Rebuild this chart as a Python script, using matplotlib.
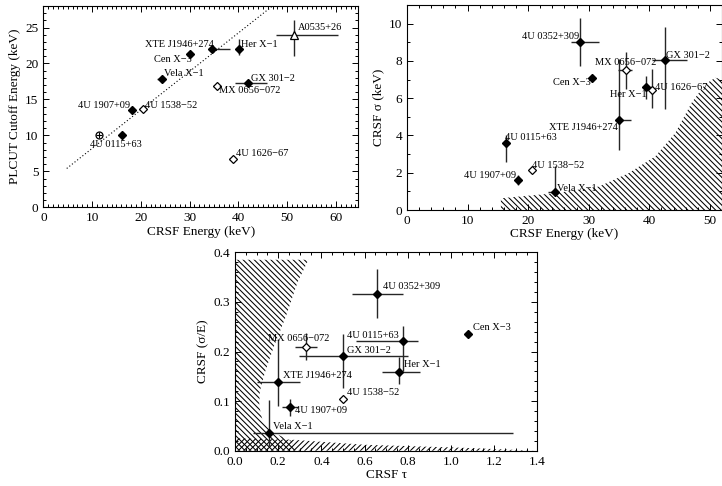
import numpy as np
import matplotlib.pyplot as plt
from matplotlib.ticker import MultipleLocator

plt.rcParams['font.family'] = ['Liberation Serif', 'DejaVu Serif']
plt.rcParams['hatch.linewidth'] = 0.75

# --- panel 1: CRSF energy vs PLCUT cutoff energy ---
names_a = ["4U 0115+63", "4U 0115+63b", "4U 1907+09", "4U 1538−52", "Vela X−1",
           "Cen X−3", "XTE J1946+274", "Her X−1", "A0535+26", "GX 301−2",
           "MX 0656−072", "4U 1626−67"]
ecrsf_a = [11.4, 16.2, 18.1, 20.5, 24.3, 30.1, 34.6, 40.1, 51.4, 41.9, 35.7, 38.9]
ecrsf_lo_a = [11.4, 15.8, 17.8, 20.5, 23.3, 30.1, 34.6, 40.1, 47.8, 39.3, 34.7, 38.1]
ecrsf_hi_a = [11.4, 16.2, 18.1, 20.5, 24.3, 30.1, 38.3, 40.1, 60.4, 45.8, 35.7, 38.9]
ecut_a = [10.0, 10.0, 13.55, 13.65, 17.85, 21.3, 22.0, 22.0, 24.0, 17.35, 16.8, 6.75]
ecut_lo_a = [10.0, 10.0, 13.55, 13.65, 17.85, 21.0, 22.0, 21.2, 21.1, 17.35, 16.8, 6.75]
ecut_hi_a = [10.0, 10.0, 13.55, 13.65, 17.85, 21.6, 22.0, 23.4, 26.1, 17.35, 16.8, 6.75]
rel_x = [4.8, 47.0]
rel_y = [5.4, 28.0]

# --- panel 2: CRSF energy vs CRSF width ---
names_b = ["4U 0352+309", "Cen X−3", "MX 0656−072", "GX 301−2", "Her X−1",
           "4U 1626−67", "XTE J1946+274", "4U 0115+63", "4U 1538−52",
           "4U 1907+09", "Vela X−1"]
ecrsf_b = [28.6, 30.5, 36.2, 42.6, 39.5, 40.5, 35.05, 16.3, 20.6, 18.3, 24.5]
ecrsf_lo_b = [27.1, 30.5, 34.8, 40.5, 39.5, 40.5, 34.5, 16.0, 20.6, 18.3, 23.3]
ecrsf_hi_b = [31.7, 30.5, 37.2, 46.3, 39.5, 40.5, 37.0, 16.6, 20.6, 18.3, 24.5]
sigma_b = [9.03, 7.1, 7.52, 8.04, 6.62, 6.42, 4.82, 3.6, 2.16, 1.6, 0.94]
sigma_lo_b = [7.73, 7.1, 6.5, 5.43, 5.94, 5.49, 3.2, 2.6, 2.16, 1.35, 0.81]
sigma_hi_b = [10.3, 7.1, 8.5, 9.8, 7.19, 7.55, 8.09, 4.05, 2.16, 1.89, 2.34]
limit_e = [15.5, 24.5, 31.7, 36.6, 41.0, 44.3, 47.0, 49.2, 50.9, 52.0]
limit_s = [0.63, 0.9, 1.26, 1.98, 2.88, 4.14, 5.76, 6.74, 7.1, 7.0]

# --- panel 3: CRSF depth vs fractional width ---
names_c = ["4U 0352+309", "Cen X−3", "4U 0115+63", "GX 301−2", "MX 0656−072",
           "Her X−1", "XTE J1946+274", "4U 1538−52", "4U 1907+09", "Vela X−1"]
tau_c = [0.659, 1.077, 0.779, 0.498, 0.329, 0.759, 0.198, 0.498, 0.255, 0.157]
tau_lo_c = [0.54, 1.067, 0.56, 0.298, 0.278, 0.679, 0.10, 0.498, 0.216, 0.085]
tau_hi_c = [0.776, 1.087, 0.849, 0.802, 0.378, 0.856, 0.30, 0.498, 0.293, 1.289]
frac_c = [0.316, 0.236, 0.221, 0.190, 0.210, 0.159, 0.139, 0.105, 0.088, 0.035]
frac_lo_c = [0.268, 0.236, 0.161, 0.127, 0.182, 0.134, 0.090, 0.105, 0.070, 0.009]
frac_hi_c = [0.366, 0.236, 0.251, 0.235, 0.238, 0.188, 0.225, 0.105, 0.104, 0.102]
left_tau = [0.0, 0.0, 0.34, 0.29, 0.235, 0.18, 0.14, 0.115, 0.112, 0.125, 0.15, 0.2, 0.26, 0.28]
left_frac = [0.0, 0.385, 0.385, 0.34, 0.27, 0.21, 0.16, 0.12, 0.09, 0.065, 0.048, 0.032, 0.02, 0.0]
low_tau = [0.0, 0.27, 0.6, 1.05, 1.39]
low_frac = [0.025, 0.022, 0.012, 0.006, 0.0]

open_marks = {"4U 1538−52", "4U 1626−67", "MX 0656−072"}

labels_a = {"4U 0115+63": (9.6, 8.7, 'left'), "4U 1907+09": (17.8, 14.1, 'right'),
            "4U 1538−52": (20.9, 14.1, 'left'), "Vela X−1": (24.8, 18.6, 'left'),
            "Cen X−3": (30.4, 20.6, 'right'), "XTE J1946+274": (34.9, 22.7, 'right'),
            "Her X−1": (40.6, 22.7, 'left'), "A0535+26": (52.2, 25.0, 'left'),
            "GX 301−2": (42.6, 17.9, 'left'), "MX 0656−072": (36.1, 16.25, 'left'),
            "4U 1626−67": (39.5, 7.45, 'left')}
labels_b = {"4U 0352+309": (28.4, 9.3, 'right'), "MX 0656−072": (31.1, 7.9, 'left'),
            "GX 301−2": (42.8, 8.3, 'left'), "Cen X−3": (30.4, 6.85, 'right'),
            "Her X−1": (39.5, 6.2, 'right'), "4U 1626−67": (41.0, 6.6, 'left'),
            "XTE J1946+274": (34.8, 4.45, 'right'), "4U 0115+63": (16.2, 3.9, 'left'),
            "4U 1538−52": (20.7, 2.4, 'left'), "4U 1907+09": (18.0, 1.85, 'right'),
            "Vela X−1": (24.7, 1.17, 'left')}
labels_c = {"4U 0352+309": (0.684, 0.331, 'left'), "Cen X−3": (1.10, 0.249, 'left'),
            "4U 0115+63": (0.52, 0.232, 'left'), "MX 0656−072": (0.154, 0.227, 'left'),
            "GX 301−2": (0.52, 0.203, 'left'), "Her X−1": (0.782, 0.173, 'left'),
            "XTE J1946+274": (0.221, 0.151, 'left'), "4U 1538−52": (0.52, 0.117, 'left'),
            "4U 1907+09": (0.278, 0.082, 'left'), "Vela X−1": (0.177, 0.048, 'left')}

HATCH_BACK = '\\' * 6
HATCH_FWD = '/' * 6


def style_axes(ax, xmaj, xmin, ymaj, ymin):
    ax.xaxis.set_major_locator(MultipleLocator(xmaj))
    ax.xaxis.set_minor_locator(MultipleLocator(xmin))
    ax.yaxis.set_major_locator(MultipleLocator(ymaj))
    ax.yaxis.set_minor_locator(MultipleLocator(ymin))
    ax.tick_params(which='both', direction='in', top=True, right=True,
                   labelsize=9.5, width=0.7)
    ax.tick_params(which='major', length=4.5)
    ax.tick_params(which='minor', length=2)
    for s in ax.spines.values():
        s.set_linewidth(0.8)


def draw_points(ax, names, x, xlo, xhi, y, ylo, yhi, special=None):
    for i, n in enumerate(names):
        ax.errorbar(x[i], y[i], xerr=[[x[i] - xlo[i]], [xhi[i] - x[i]]],
                    yerr=[[y[i] - ylo[i]], [yhi[i] - y[i]]], fmt='none',
                    ecolor='0.15', elinewidth=1.0, capsize=0)
        if special and n in special:
            special[n](ax, x[i], y[i])
        elif n in open_marks:
            ax.plot(x[i], y[i], 'D', ms=4, mfc='white', mec='k', mew=0.9)
        else:
            ax.plot(x[i], y[i], 'D', ms=4.2, mfc='k', mec='k')


def put_labels(ax, labels):
    for n, (tx, ty, ha) in labels.items():
        ax.text(tx, ty, n, ha=ha, va='center', fontsize=7.5)


def circ_plus(ax, x, y):
    ax.plot(x, y, 'o', ms=5, mfc='white', mec='k', mew=0.9)
    ax.plot(x, y, '+', ms=5, color='k', mew=0.8)


def triangle(ax, x, y):
    ax.plot(x, y, '^', ms=6, mfc='white', mec='k', mew=0.9)


fig = plt.figure(figsize=(7.22, 4.86), dpi=100)

# panel 1
ax1 = fig.add_axes([0.060, 0.5735, 0.4363, 0.4142])
ax1.plot(rel_x, rel_y, color='k', ls=(0, (1, 2)), lw=0.8)
draw_points(ax1, names_a, ecrsf_a, ecrsf_lo_a, ecrsf_hi_a, ecut_a, ecut_lo_a, ecut_hi_a,
            special={"4U 0115+63": circ_plus, "A0535+26": triangle})
put_labels(ax1, labels_a)
ax1.set_xlim(0, 64.6)
ax1.set_ylim(0, 28)
style_axes(ax1, 10, 1, 5, 1)
ax1.set_xlabel('CRSF Energy (keV)', fontsize=9.5, labelpad=1)
ax1.set_ylabel('PLCUT Cutoff Energy (keV)', fontsize=9.5, labelpad=3)

# panel 2
ax2 = fig.add_axes([0.5637, 0.5679, 0.4363, 0.4218])
ax2.fill_between(limit_e, 0, limit_s, facecolor='none', edgecolor='k',
                 hatch=HATCH_BACK, linewidth=0)
draw_points(ax2, names_b, ecrsf_b, ecrsf_lo_b, ecrsf_hi_b, sigma_b, sigma_lo_b, sigma_hi_b)
put_labels(ax2, labels_b)
ax2.set_xlim(0, 52)
ax2.set_ylim(0, 11)
style_axes(ax2, 10, 2, 2, 1)
ax2.set_xlabel('CRSF Energy (keV)', fontsize=9.5, labelpad=1)
ax2.set_ylabel('CRSF σ (keV)', fontsize=9.5, labelpad=3)

# panel 3
ax3 = fig.add_axes([0.3255, 0.0726, 0.4187, 0.4082])
ax3.fill(left_tau, left_frac, facecolor='none', edgecolor='k',
         hatch=HATCH_BACK, linewidth=0)
ax3.fill_between(low_tau, 0, low_frac, facecolor='none', edgecolor='k',
                 hatch=HATCH_FWD, linewidth=0)
draw_points(ax3, names_c, tau_c, tau_lo_c, tau_hi_c, frac_c, frac_lo_c, frac_hi_c)
put_labels(ax3, labels_c)
ax3.set_xlim(0, 1.4)
ax3.set_ylim(0, 0.4)
style_axes(ax3, 0.2, 0.05, 0.1, 0.02)
ax3.xaxis.set_major_formatter(plt.FormatStrFormatter('%.1f'))
ax3.yaxis.set_major_formatter(plt.FormatStrFormatter('%.1f'))
ax3.set_xlabel('CRSF τ', fontsize=9.5, labelpad=1)
ax3.set_ylabel('CRSF (σ/E)', fontsize=9.5, labelpad=3)

fig.savefig('out.png', dpi=100)
